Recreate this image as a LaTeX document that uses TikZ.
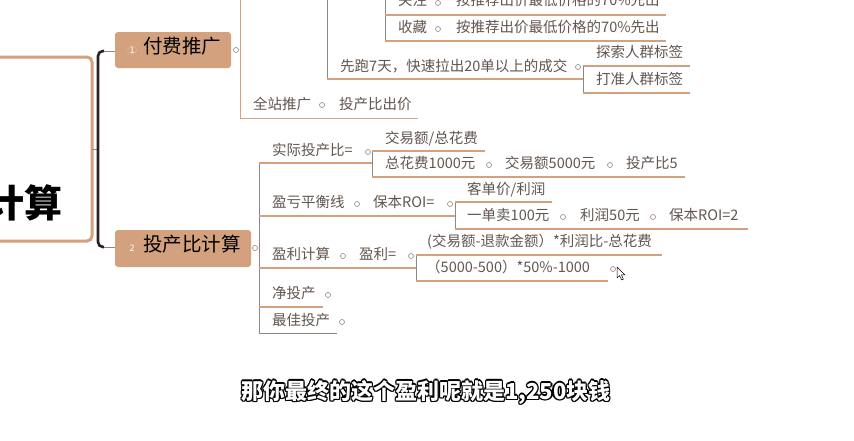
\documentclass[tikz,border=0pt]{standalone}
\usepackage{fontspec}
\setmainfont{Noto Sans CJK SC}
\usetikzlibrary{calc}

\definecolor{tan}{HTML}{D3A17E}
\definecolor{txtc}{HTML}{62554F}
\definecolor{greyl}{HTML}{8E8584}
\definecolor{knobc}{HTML}{9A8378}
\definecolor{darkl}{HTML}{2A2222}

\tikzset{
  txt/.style={anchor=west, inner sep=0pt, text height=0.88em, text depth=0.12em,
              font=\fontsize{14.5}{16}\selectfont, text=txtc},
  knob/.style={circle, draw=knobc, fill=white, line width=0.6pt,
               minimum size=5pt, inner sep=0pt},
  uline/.style={draw=tan, line width=1.1pt},
  gline/.style={draw=greyl, line width=0.8pt},
  topic/.style={fill=tan, rounded corners=3pt},
  topictxt/.style={anchor=west, inner sep=0pt, text height=0.88em, text depth=0.12em,
                   font=\fontsize{19.5}{22}\selectfont, text=black},
  numtxt/.style={inner sep=0pt, font=\fontsize{9}{10}\selectfont, text=white},
  subtxt/.style={inner sep=0pt, font=\fontsize{22}{24}\bfseries\selectfont}
}

\begin{document}
\begin{tikzpicture}[x=1pt,y=-1pt]
\useasboundingbox (0,0) rectangle (854,440);
\fill[white] (0,0) rectangle (854,440);

% ---------- central topic ----------
\draw[draw=tan, line width=3pt, rounded corners=5pt, fill=white] (-12,57) rectangle (92,241);
\node[anchor=east, inner sep=0pt, font=\fontsize{38}{40}\bfseries\selectfont, text=black] (root) at (63,203) {计算};

% bracket joining the two main topics
\coordinate (rootout) at (92,149);
\coordinate (bmid) at (98,149);
\coordinate (btop) at (104,51);
\coordinate (bbot) at (104,247);
\draw[gline] (rootout) -- (bmid);
\draw[draw=darkl, line width=2.6pt, rounded corners=5pt] (btop) -- (98,51) -- (98,247) -- (bbot);

% ---------- main topic 1 ----------
\fill[topic] (115,32) rectangle (231,68);
\node[numtxt] (n1) at (132,50) {1};
\draw[white!85!tan, line width=0.5pt, dotted] (n1) circle (4.5);
\node[topictxt] (t1) at (143,50) {付费推广};
\draw[gline] (btop) -- (115,51);
\node[knob] (k1) at (236,50) {};

% branch of topic 1
\draw[uline, line width=0.9pt] (240,-5) -- (240,118) -- (418,118);
\node[txt] (qz) at (253,106) {全站推广};
\node[knob] (kqz) at (322,105) {};
\node[txt] (qzv) at (339,106) {投产比出价};

\draw[gline] (327,-5) -- (327,79);
\draw[uline] (327,79) -- (583,79);
\node[txt] (xp) at (340,68) {先跑7天，快速拉出20单以上的成交};
\node[knob] (kxp) at (578,67) {};

\draw[uline] (583,66) -- (690,66);
\draw[gline] (583,66) -- (583,93);
\draw[uline] (583,93) -- (690,93);
\node[txt] (ts) at (596,54) {探索人群标签};
\node[txt] (dz) at (596,81) {打准人群标签};

\draw[gline] (385,-5) -- (385,41);
\draw[uline] (385,15) -- (666,15);
\draw[uline] (385,41) -- (666,41);
\node[txt] (gz) at (398,2) {关注};
\node[knob] (kgz) at (438,3) {};
\node[txt] (gzv) at (456,2) {按推荐出价最低价格的70\%先出};
\node[txt] (sc) at (398,29) {收藏};
\node[knob] (ksc) at (438,29) {};
\node[txt] (scv) at (456,29) {按推荐出价最低价格的70\%先出};

% ---------- main topic 2 ----------
\fill[topic] (115,230) rectangle (251,267);
\node[numtxt] (n2) at (132,248) {2};
\node[topictxt] (t2) at (143,248) {投产比计算};
\draw[gline] (bbot) -- (115,247);
\node[knob] (k2) at (255,248) {};

\draw[gline] (259,163) -- (259,333);

% actual ROI
\node[txt] (sj) at (272,152) {实际投产比=};
\node[knob] (ksj) at (368,152) {};
\draw[uline] (259,163) -- (372,163);
\draw[gline] (372,151) -- (372,177);
\draw[uline] (372,151) -- (485,151);
\draw[uline] (372,177) -- (685,177);
\node[txt] (jy) at (385,140) {交易额/总花费};
\node[txt] (zh) at (385,165) {总花费1000元};
\node[knob] (kzh) at (489,165) {};
\node[txt] (jy5) at (505,165) {交易额5000元};
\node[knob] (kjy5) at (610,165) {};
\node[txt] (tc5) at (626,165) {投产比5};

% break-even
\node[txt] (yk) at (272,204) {盈亏平衡线};
\node[knob] (kyk) at (357,204) {};
\node[txt] (bb) at (373,204) {保本ROI=};
\node[knob] (kbb) at (450,204) {};
\draw[uline] (259,216) -- (455,216);
\draw[gline] (455,202) -- (455,229);
\draw[uline] (455,202) -- (552,202);
\draw[uline] (455,229) -- (748,229);
\node[txt] (kd) at (467,191) {客单价/利润};
\node[txt] (yd) at (467,217) {一单卖100元};
\node[knob] (kyd) at (563,217) {};
\node[txt] (lr) at (580,217) {利润50元};
\node[knob] (klr) at (653,217) {};
\node[txt] (bb2) at (669,217) {保本ROI=2};

% profit
\node[txt] (yl) at (272,256) {盈利计算};
\node[knob] (kyl) at (343,256) {};
\node[txt] (yle) at (359,256) {盈利=};
\node[knob] (kyle) at (411,256) {};
\draw[uline] (259,268) -- (416,268);
\draw[gline] (416,255) -- (416,281);
\draw[uline] (416,255) -- (662,255);
\draw[uline] (416,281) -- (608,281);
\node[txt] (gs) at (427,243) {(交易额-退款金额）*利润比-总花费};
\node[txt] (js) at (426,269) {（5000-500）*50\%-1000};
\node[knob] (kjs) at (613,269) {};

% mouse pointer
\coordinate (cur) at (617,267);
\draw[black, fill=white, line width=0.5pt, line join=round]
  (cur) -- ++(0,11) -- ++(2.6,-2.4) -- ++(2,4.4) -- ++(1.8,-0.8) -- ++(-2,-4.3) -- ++(3.5,0) -- cycle;

% net and best ROI
\node[txt] (jt) at (272,295) {净投产};
\node[knob] (kjt) at (328,295) {};
\draw[uline] (259,307) -- (323,307);
\node[txt] (zj) at (272,322) {最佳投产};
\node[knob] (kzj) at (342,322) {};
\draw[gline] (259,333) -- (337,333);

% ---------- caption ----------
\foreach \dx/\dy [count=\i] in {-1.3/0,1.3/0,0/-1.3,0/1.3,-1/-1,1/1,-1/1,1/-1}
  \node[subtxt, text=black] (capo\i) at (426+\dx,392+\dy) {那你最终的这个盈利呢就是1,250块钱};
\node[subtxt, text=white] (cap) at (426,392) {那你最终的这个盈利呢就是1,250块钱};

\end{tikzpicture}
\end{document}
